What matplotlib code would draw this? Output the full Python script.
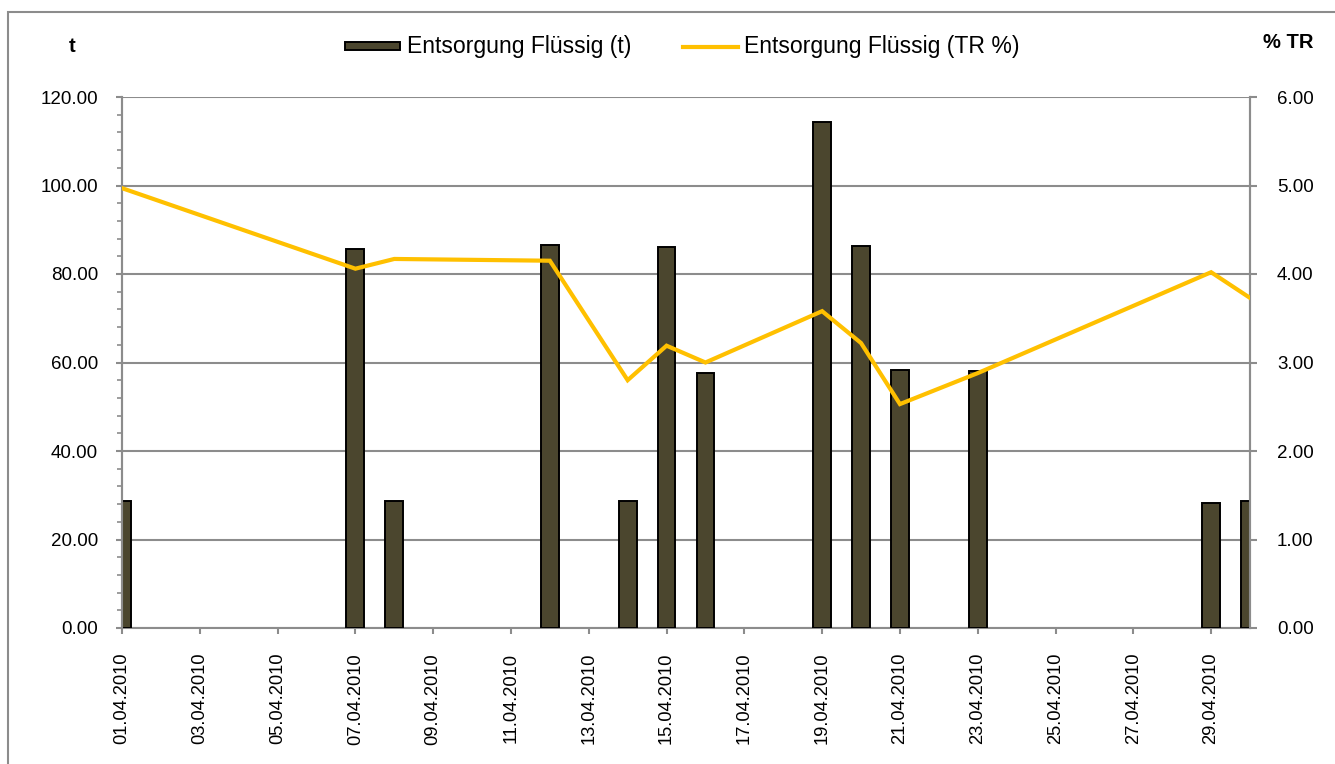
import matplotlib
matplotlib.use("Agg")
import matplotlib.pyplot as plt
import matplotlib.dates as mdates
import matplotlib.ticker as mticker
from matplotlib.patches import Rectangle
from matplotlib.lines import Line2D
import numpy as np
import pandas as pd

dates = ["01.04.2010", "07.04.2010", "08.04.2010", "12.04.2010", "14.04.2010",
         "15.04.2010", "16.04.2010", "19.04.2010", "20.04.2010", "21.04.2010",
         "23.04.2010", "29.04.2010", "30.04.2010"]
tonnes = [28.8, 85.6, 28.8, 86.6, 28.8, 86.0, 57.7, 114.4, 86.4, 58.2, 58.0, 28.3, 28.8]
tr_pct = [4.97, 4.06, 4.17, 4.15, 2.80, 3.19, 3.00, 3.58, 3.22, 2.53, 2.88, 4.02, 3.73]
bar_label = "Entsorgung Flüssig (t)"
line_label = "Entsorgung Flüssig (TR %)"
left_title = "t"
right_title = "% TR"

PX = 72 / 100  # points per pixel at dpi 100
plt.rcParams['font.family'] = ['Liberation Sans', 'DejaVu Sans']
plt.rcParams['ytick.major.pad'] = 18 * PX
plt.rcParams['xtick.major.pad'] = 19 * PX
FS_Y = 13.5
FS_X = 13.2
FS_LEG = 16.6

x = pd.to_datetime(dates, format="%d.%m.%Y")
W, H = 1335, 764
fig = plt.figure(figsize=(W / 100, H / 100), dpi=100)

def fx(px):
    return px / W

def fy(py):
    return 1 - py / H

# outer frame
fig.add_artist(Rectangle((fx(8), -0.01), 1.02, fy(12) + 0.01, transform=fig.transFigure,
                         fill=False, edgecolor="#8c8c8c", linewidth=1.5))

L, R, T, B = 122, 1250, 97, 628
ax = fig.add_axes([fx(L), fy(B), (R - L) / W, (B - T) / H])
ax2 = ax.twinx()

bar_col = "#4b462e"
line_col = "#ffc000"
grid_col = "#8c8c8c"

ax.bar(x, tonnes, width=0.46, color=bar_col, edgecolor="black", linewidth=1.4, zorder=3)
ax2.plot(x, tr_pct, color=line_col, linewidth=3, zorder=4, solid_joinstyle="miter")

ax.set_xlim(pd.Timestamp("2010-04-01"), pd.Timestamp("2010-04-30"))
ax.set_ylim(0, 120)
ax2.set_ylim(0, 6)
ax.set_yticks(np.arange(0, 121, 20))
ax.set_yticks(np.arange(0, 121, 4), minor=True)
ax.yaxis.set_major_formatter(mticker.FormatStrFormatter("%.2f"))
ax2.set_yticks(np.arange(0, 6.01, 1))
ax2.yaxis.set_major_formatter(mticker.FormatStrFormatter("%.2f"))

ax.xaxis.set_major_locator(mdates.DayLocator(bymonthday=range(1, 31, 2)))
ax.xaxis.set_major_formatter(mdates.DateFormatter("%d.%m.%Y"))

ax.grid(axis="y", which="major", color=grid_col, linewidth=1.5, zorder=0)
ax.set_axisbelow(True)
ax2.set_zorder(ax.get_zorder() + 1)
ax2.patch.set_visible(False)

for a in (ax, ax2):
    for s in a.spines.values():
        s.set_color(grid_col)
        s.set_linewidth(1.5)
    a.spines["top"].set_visible(False)
ax2.spines["bottom"].set_visible(False)

ax.tick_params(axis="y", which="major", length=6 * PX * 1.0, width=1.5, color=grid_col,
               labelsize=FS_Y, direction="out")
ax.tick_params(axis="x", which="major", length=6 * PX, width=1.5, color=grid_col,
               labelsize=FS_X, direction="out", labelrotation=90)
ax.tick_params(axis="y", which="minor", length=5 * PX, width=1.2, color=grid_col)
ax2.tick_params(axis="y", which="major", length=7 * PX, width=1.5, color=grid_col,
                labelsize=FS_Y, pad=20 * PX)
ax2.tick_params(axis="y", which="minor", length=0)

fig.text(fx(72), fy(47), left_title, fontsize=14.5, fontweight="bold", ha="center", va="center")
fig.text(fx(1288), fy(42), right_title, fontsize=14.5, fontweight="bold", ha="center", va="center")

# legend drawn in figure coordinates
fig.add_artist(Rectangle((fx(345), fy(50)), fx(400) - fx(345), fy(42) - fy(50),
                         transform=fig.transFigure, facecolor=bar_col, edgecolor="black",
                         linewidth=1.4))
fig.text(fx(407), fy(47), bar_label, fontsize=FS_LEG, ha="left", va="center")
fig.add_artist(Line2D([fx(683), fx(738)], [fy(47), fy(47)], transform=fig.transFigure,
                      color=line_col, linewidth=3))
fig.text(fx(744), fy(47), line_label, fontsize=FS_LEG, ha="left", va="center")

fig.savefig("out.png", dpi=100)
